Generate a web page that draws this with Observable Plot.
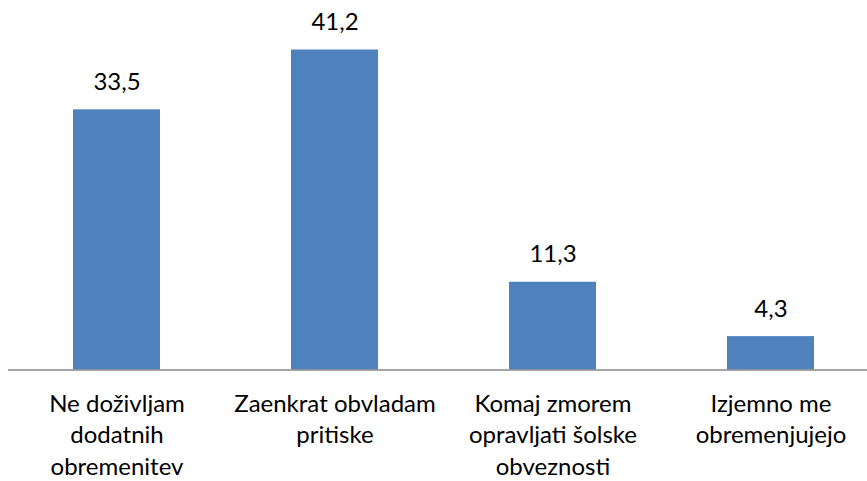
<!DOCTYPE html>
<html>
<head>
<meta charset="utf-8">
<script src="https://cdn.jsdelivr.net/npm/d3@7"></script>
<script src="https://cdn.jsdelivr.net/npm/@observablehq/plot@0.6"></script>
<style>
  html, body { margin: 0; padding: 0; background: #fff; }
  #chart svg { display: block; }
</style>
</head>
<body>
<div id="chart"></div>
<script>
const categories = ["Ne doživljam dodatnih obremenitev", "Zaenkrat obvladam pritiske", "Komaj zmorem opravljati šolske obveznosti", "Izjemno me obremenjujejo"];
const values = [33.5, 41.2, 11.3, 4.3];
const tickLabels = ["Ne doživljam\ndodatnih\nobremenitev", "Zaenkrat obvladam\npritiske", "Komaj zmorem\nopravljati šolske\nobveznosti", "Izjemno me\nobremenjujejo"];

const data = categories.map((c, i) => ({category: c, value: values[i]}));
const fmt = v => String(v.toFixed(1)).replace(".", ",");

const chart = Plot.plot({
  width: 867,
  height: 481,
  marginLeft: 8,
  marginRight: 0,
  marginTop: 20,
  marginBottom: 111.5,
  style: {fontFamily: "Lato, sans-serif", fontSize: "24px", color: "#000", background: "#fff"},
  x: {domain: categories, range: [7.5, 879.5], paddingInner: 0.6, paddingOuter: 0.3},
  y: {domain: [0, 45], axis: null},
  marks: [
    Plot.barY(data, {x: "category", y: "value", fill: "#4F81BD"}),
    Plot.ruleY([0], {stroke: "#878787", strokeWidth: 1.5}),
    Plot.text(data, {x: "category", y: "value", text: d => fmt(d.value), dy: -20, lineAnchor: "bottom", fontSize: 24, fill: "#000"}),
    Plot.axisX({
      tickSize: 0,
      tickPadding: 20,
      label: null,
      fontSize: 24,
      lineHeight: 1.3,
      fill: "#000",
      tickFormat: d => tickLabels[categories.indexOf(d)]
    })
  ]
});
document.getElementById("chart").appendChild(chart);
</script>
</body>
</html>
